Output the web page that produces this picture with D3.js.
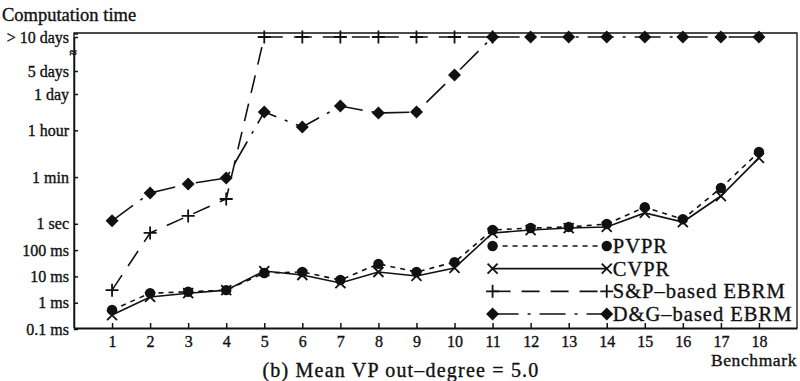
<!DOCTYPE html>
<html>
<head>
<meta charset="utf-8">
<script src="https://cdn.jsdelivr.net/npm/d3@7/dist/d3.min.js"></script>
<style>
  body { margin: 0; background: #fff; }
  svg { display: block; font-family: "Liberation Serif", "Times New Roman", serif; }
  svg text { fill: #111; stroke: #111; stroke-width: 0.35px; font-family: "Liberation Serif", "Times New Roman", serif; }
</style>
</head>
<body>
<svg id="chart" width="800" height="381"></svg>
<script>
// benchmarks 1..18, times in seconds; 1e6 stands for "> 10 days"
const benchmarks = d3.range(1, 19);
const pvpr = [5.3e-4, 2.3e-3, 2.6e-3, 3.0e-3, 0.0135, 0.0147, 0.0073, 0.030, 0.0147, 0.035,
              0.58, 0.69, 0.76, 0.98, 4.3, 1.5, 23, 540];
const cvpr = [3.4e-4, 1.65e-3, 2.3e-3, 3.0e-3, 0.016, 0.0113, 0.0056, 0.0147, 0.0104, 0.021,
              0.45, 0.58, 0.69, 0.76, 2.6, 1.17, 11.4, 320];
const spEbrm = [0.003, 0.45, 2.0, 8.8, 1e6, 1e6, 1e6, 1e6, 1e6, 1e6, 1e6];
const dgEbrm = [1.3, 15, 33, 55, 17800, 4800, 30000, 16300, 17800, 326000,
                1e6, 1e6, 1e6, 1e6, 1e6, 1e6, 1e6, 1e6];

const yTickValues = [1e-4, 1e-3, 1e-2, 0.1, 1, 60, 3600, 86400, 432000, 1e6];
const yTickLabels = ["0.1 ms", "1 ms", "10 ms", "100 ms", "1 sec", "1 min", "1 hour", "1 day", "5 days", "> 10 days"];

const series = [
  {name: "PVPR", values: pvpr, marker: "circle", dash: "5,5"},
  {name: "CVPR", values: cvpr, marker: "x", dash: null},
  {name: "S&P\u2013based EBRM", values: spEbrm, marker: "plus", dash: "18,11"},
  {name: "D&G\u2013based EBRM", values: dgEbrm, marker: "diamond", dash: "26,9,3,9"}
];

const svg = d3.select("#chart");
const ink = "#111";
const mLeft = 74, mRight = 797, mTop = 33, mBottom = 328;

const x = d3.scaleLinear().domain([0, 19]).range([mLeft, mRight]);
// broken log axis: regular log scale up to 1 day, compressed above
const y = d3.scaleLog().domain([1e-4, 86400, 432000, 1e6]).range([mBottom + 1, 94, 71, 37]);

// frame
svg.append("path")
  .attr("d", `M${mLeft},${mBottom}V${mTop}H${mRight}V${mBottom}`)
  .attr("fill", "none").attr("stroke", ink).attr("stroke-width", 1.3);

// y axis
const yAxis = svg.append("g")
  .attr("transform", `translate(${mLeft},0)`)
  .call(d3.axisLeft(y).tickValues(yTickValues)
    .tickFormat((d, i) => yTickLabels[i]).tickSizeInner(-4).tickSizeOuter(0).tickPadding(5));
yAxis.select(".domain").attr("stroke", ink).attr("stroke-width", 1.5);
yAxis.selectAll(".tick line").attr("stroke", ink).attr("stroke-width", 1.5);
yAxis.selectAll(".tick text").style("font-size", "16px");
// axis break mark
svg.append("text").attr("x", mLeft - 1).attr("y", 57).attr("text-anchor", "middle")
  .style("font-size", "13px").style("font-weight", "bold").text("\u2248");
svg.append("line").attr("x1", mLeft).attr("x2", mLeft + 4).attr("y1", mTop + 1).attr("y2", mTop + 1)
  .attr("stroke", ink).attr("stroke-width", 1.5);

// x axis
const xAxis = svg.append("g")
  .attr("transform", `translate(0,${mBottom})`)
  .call(d3.axisBottom(x).tickValues(benchmarks).tickFormat(d3.format("d"))
    .tickSizeInner(-5).tickSizeOuter(0).tickPadding(8));
xAxis.select(".domain").attr("stroke", ink).attr("stroke-width", 1.8);
xAxis.selectAll(".tick line").attr("stroke", ink).attr("stroke-width", 1.5);
xAxis.selectAll(".tick text").style("font-size", "16px");

// titles
svg.append("text").attr("x", 2).attr("y", 21).style("font-size", "18.5px")
  .text("Computation time");
svg.append("text").attr("x", 797).attr("y", 366).attr("text-anchor", "end")
  .style("font-size", "17.5px").style("letter-spacing", "0.6px").text("Benchmark");
svg.append("text").attr("x", 401).attr("y", 377).attr("text-anchor", "middle")
  .style("font-size", "20px").style("letter-spacing", "1.2px").text("(b) Mean VP out\u2013degree = 5.0");

function drawMarker(g, kind, cx, cy) {
  if (kind === "circle") {
    g.append("circle").attr("cx", cx).attr("cy", cy).attr("r", 5.2).attr("fill", ink);
  } else if (kind === "diamond") {
    g.append("path").attr("d", `M${cx},${cy - 6.5}L${cx + 6.5},${cy}L${cx},${cy + 6.5}L${cx - 6.5},${cy}Z`)
      .attr("fill", ink);
  } else if (kind === "x") {
    const s = 5;
    g.append("path").attr("d", `M${cx - s},${cy - s}L${cx + s},${cy + s}M${cx - s},${cy + s}L${cx + s},${cy - s}`)
      .attr("stroke", ink).attr("stroke-width", 1.8);
  } else {
    const s = 6.5;
    g.append("path").attr("d", `M${cx - s},${cy}H${cx + s}M${cx},${cy - s}V${cy + s}`)
      .attr("stroke", ink).attr("stroke-width", 1.8);
  }
}

const line = d3.line().x((d, i) => x(benchmarks[i])).y(d => y(d));

series.forEach(s => {
  const g = svg.append("g");
  g.append("path").datum(s.values).attr("d", line)
    .attr("fill", "none").attr("stroke", ink).attr("stroke-width", 1.6)
    .attr("stroke-dasharray", s.dash);
  s.values.forEach((v, i) => drawMarker(g, s.marker, x(benchmarks[i]), y(v)));
});

// legend, lines spanning benchmark 11 to 14
const legendY = d3.scaleLinear().domain([0, 3]).range([246, 314]);
series.forEach((s, i) => {
  const g = svg.append("g");
  const ly = legendY(i), x0 = x(11), x1 = x(14);
  g.append("line").attr("x1", x0).attr("x2", x1).attr("y1", ly).attr("y2", ly)
    .attr("stroke", ink).attr("stroke-width", 1.6).attr("stroke-dasharray", s.dash);
  drawMarker(g, s.marker, x0, ly);
  drawMarker(g, s.marker, x1, ly);
  g.append("text").attr("x", x1 + 6).attr("y", ly + 7).style("font-size", "20.5px")
    .style("letter-spacing", "1px").text(s.name);
});
</script>
</body>
</html>
